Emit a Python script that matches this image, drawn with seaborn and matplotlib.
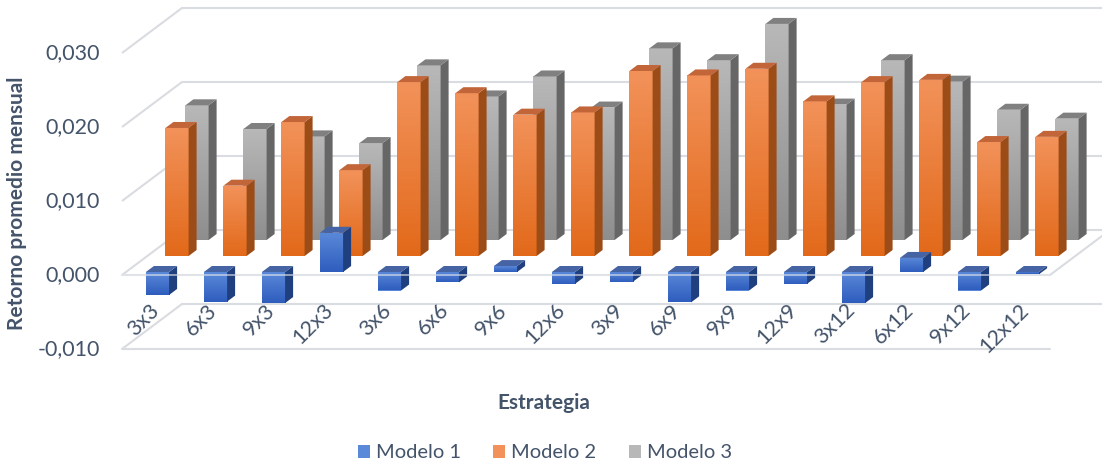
import numpy as np
import matplotlib
matplotlib.use("Agg")
import matplotlib.pyplot as plt
import seaborn as sns
from matplotlib.patches import Polygon, Patch
from matplotlib.colors import LinearSegmentedColormap

# ---- data -----------------------------------------------------------------
categories = ["3x3", "6x3", "9x3", "12x3", "3x6", "6x6", "9x6", "12x6",
              "3x9", "6x9", "9x9", "12x9", "3x12", "6x12", "9x12", "12x12"]
modelo_1 = [-0.0031, -0.0040, -0.0042, 0.0053, -0.0025, -0.0014, 0.0008, -0.0016,
            -0.0013, -0.0041, -0.0025, -0.0016, -0.0042, 0.0019, -0.0025, -0.0003]
modelo_2 = [0.0173, 0.0095, 0.0181, 0.0116, 0.0235, 0.0220, 0.0191, 0.0194,
            0.0250, 0.0244, 0.0253, 0.0209, 0.0235, 0.0238, 0.0154, 0.0161]
modelo_3 = [0.0182, 0.0150, 0.0140, 0.0131, 0.0236, 0.0194, 0.0221, 0.0179,
            0.0259, 0.0243, 0.0292, 0.0183, 0.0243, 0.0214, 0.0176, 0.0164]
series_names = ["Modelo 1", "Modelo 2", "Modelo 3"]
y_ticks = [-0.010, 0.000, 0.010, 0.020, 0.030]
y_tick_labels = ["-0,010", "0,000", "0,010", "0,020", "0,030"]

# ---- styling --------------------------------------------------------------
sns.set_theme(style="white")
plt.rcParams["font.family"] = ["Lato", "DejaVu Sans"]
TEXT = "#44546A"
GRID = "#D9DCE1"
FS = 15.5

# face colours per series: (front top, front bottom, side, top)
faces = [
    ("#5B89D9", "#2E5DBE", "#203F7E", "#4663A3"),
    ("#F2925A", "#E2691A", "#9C4C17", "#C2663A"),
    ("#B8B8B8", "#8E8E8E", "#666666", "#808080"),
]

W, H = 1102, 467
fig = plt.figure(figsize=(W / 100, H / 100), dpi=100)

# geometry of the oblique box (pixel units, origin top-left)
FX0, FX1 = 122, 1050          # front edge of the floor
ZERO_Y = 275                  # value 0 on the front plane
PPU = 7400                    # pixels per unit of return
DEPTH = (60, -45)             # front -> back wall offset
ROW_SHIFT = [(6.5, -3), (26, -19), (46, -35)]
YMIN, YMAX = -0.012, 0.036
N = len(categories)
CAT_PX = (FX1 - FX0) / N
BAR_DX, BAR_DY = 8, -6        # depth of each column

def vy(v, back=False):
    return ZERO_Y - v * PPU + (DEPTH[1] if back else 0)

# background axes in pixel coordinates: walls, gridlines and text
bg = fig.add_axes([0, 0, 1, 1], zorder=0)
bg.set_xlim(0, W)
bg.set_ylim(H, 0)
bg.axis("off")

for v in y_ticks:
    yf, yb = vy(v), vy(v, back=True)
    bg.plot([FX0, FX0 + DEPTH[0]], [yf, yb], color=GRID, lw=1.5, solid_capstyle="butt")
    bg.plot([FX0 + DEPTH[0], W + 10], [yb, yb], color=GRID, lw=1.5)
# floor at zero and bottom of the box
for v in (0.0, -0.010):
    bg.plot([FX0, FX1], [vy(v), vy(v)], color=GRID, lw=1.5)
bg.plot([FX1, FX1 + DEPTH[0]], [vy(0.0), vy(0.0, True)], color=GRID, lw=1.5)

for v, lab in zip(y_ticks, y_tick_labels):
    bg.text(100, vy(v), lab, ha="right", va="center", fontsize=FS, color=TEXT)

bg.text(17, 203, "Retorno promedio mensual", rotation=90, ha="center", va="center",
        fontsize=15, fontweight="bold", color=TEXT)
bg.text(544, 403, "Estrategia", ha="center", va="center",
        fontsize=15, fontweight="bold", color=TEXT)

for i, lab in enumerate(categories):
    cx = FX0 + CAT_PX * (i + 0.5)
    bg.text(cx - 2, 300, lab, rotation=45, rotation_mode="anchor",
            ha="right", va="top", fontsize=FS, color=TEXT)

# ---- one axes per depth row, back row first --------------------------------
values = [modelo_1, modelo_2, modelo_3]
ddx = BAR_DX / CAT_PX
ddy = -BAR_DY / PPU
for row in (2, 1, 0):
    ox, oy = ROW_SHIFT[row]
    zero_px = ZERO_Y + oy
    bottom_px = zero_px - YMIN * PPU
    rect = [(FX0 + ox) / W, (H - bottom_px) / H,
            (FX1 - FX0) / W, (YMAX - YMIN) * PPU / H]
    ax = fig.add_axes(rect, zorder=3 - row)
    ax.patch.set_alpha(0)
    top_c, bot_c, side_c, lid_c = faces[row]
    sns.barplot(x=categories, y=values[row], order=categories, color=top_c,
                saturation=1, width=0.4, errorbar=None, ax=ax)
    cmap = LinearSegmentedColormap.from_list("g", [top_c, bot_c])
    grad = np.linspace(0, 1, 64).reshape(-1, 1)
    for p in list(ax.patches):
        x0, w = p.get_x(), p.get_width()
        y0, h = p.get_y(), p.get_height()
        lo, hi = min(y0, y0 + h), max(y0, y0 + h)
        p.set_edgecolor("none")
        im = ax.imshow(grad, cmap=cmap, extent=[x0, x0 + w, lo, hi],
                       origin="upper", aspect="auto", zorder=2, interpolation="bilinear")
        im.set_clip_path(p)
        ax.add_patch(Polygon([(x0 + w, lo), (x0 + w + ddx, lo + ddy),
                              (x0 + w + ddx, hi + ddy), (x0 + w, hi)],
                             closed=True, facecolor=side_c, edgecolor="none",
                             zorder=2, clip_on=False))
        ax.add_patch(Polygon([(x0, hi), (x0 + ddx, hi + ddy),
                              (x0 + w + ddx, hi + ddy), (x0 + w, hi)],
                             closed=True, facecolor=lid_c, edgecolor="none",
                             zorder=2, clip_on=False))
    ax.set_xlim(-0.5, N - 0.5)
    ax.set_ylim(YMIN, YMAX)
    ax.axis("off")

# category axis line drawn over the front row
fg = fig.add_axes([0, 0, 1, 1], zorder=10)
fg.set_xlim(0, W)
fg.set_ylim(H, 0)
fg.axis("off")
fg.patch.set_alpha(0)
fg.plot([FX0, FX1], [vy(0.0), vy(0.0)], color="#E4E7EC", lw=1.2, alpha=0.7)

handles = [Patch(facecolor=f[0], edgecolor="none") for f in faces]
fig.legend(handles, series_names, loc="center", bbox_to_anchor=(545 / W, 1 - 453 / H),
           ncol=3, frameon=False, fontsize=14.5, handlelength=0.6, handleheight=0.6,
           handletextpad=0.3, columnspacing=1.6, labelcolor=TEXT)

fig.savefig("out.png", dpi=100)
